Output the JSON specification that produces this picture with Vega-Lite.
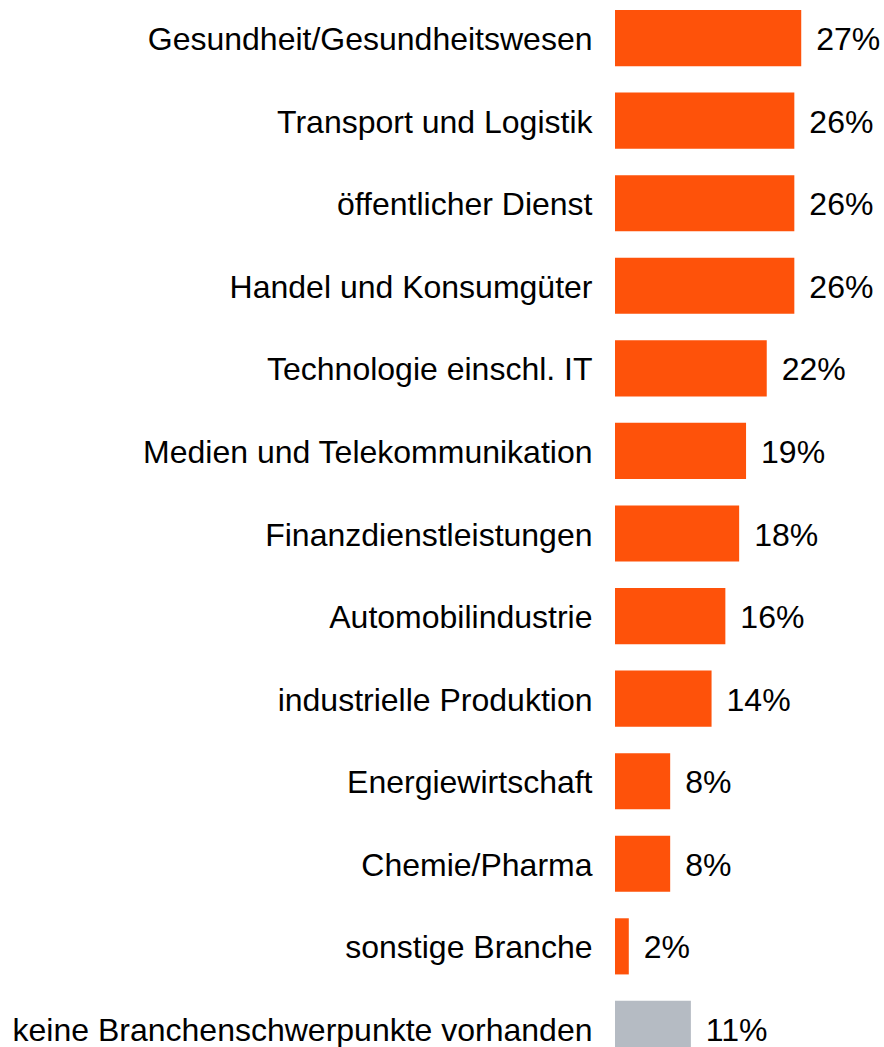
{
  "$schema": "https://vega.github.io/schema/vega-lite/v6.json",
  "autosize": "none",
  "width": 269,
  "height": 1047,
  "padding": {"top": 10, "left": 615, "right": 0, "bottom": 0},
  "background": "white",
  "config": {"view": {"stroke": null}, "font": "Liberation Sans"},
  "data": {"values": [
    {"cat": "Gesundheit/Gesundheitswesen", "value": 27, "label": "27%", "group": "a"},
    {"cat": "Transport und Logistik", "value": 26, "label": "26%", "group": "a"},
    {"cat": "öffentlicher Dienst", "value": 26, "label": "26%", "group": "a"},
    {"cat": "Handel und Konsumgüter", "value": 26, "label": "26%", "group": "a"},
    {"cat": "Technologie einschl. IT", "value": 22, "label": "22%", "group": "a"},
    {"cat": "Medien und Telekommunikation", "value": 19, "label": "19%", "group": "a"},
    {"cat": "Finanzdienstleistungen", "value": 18, "label": "18%", "group": "a"},
    {"cat": "Automobilindustrie", "value": 16, "label": "16%", "group": "a"},
    {"cat": "industrielle Produktion", "value": 14, "label": "14%", "group": "a"},
    {"cat": "Energiewirtschaft", "value": 8, "label": "8%", "group": "a"},
    {"cat": "Chemie/Pharma", "value": 8, "label": "8%", "group": "a"},
    {"cat": "sonstige Branche", "value": 2, "label": "2%", "group": "a"},
    {"cat": "keine Branchenschwerpunkte vorhanden", "value": 11, "label": "11%", "group": "b"}
  ]},
  "encoding": {
    "y": {
      "field": "cat", "type": "nominal", "sort": null,
      "scale": {"paddingInner": 0.32, "paddingOuter": 0},
      "axis": {"title": null, "domain": false, "ticks": false, "labelFontSize": 32, "labelColor": "#000000", "labelPadding": 23, "labelLimit": 800, "labelFont": "Liberation Sans", "labelOffset": 2}
    },
    "x": {
      "field": "value", "type": "quantitative",
      "scale": {"domain": [0, 39], "nice": false, "zero": true},
      "axis": null
    }
  },
  "layer": [
    {
      "mark": {"type": "bar"},
      "encoding": {
        "color": {
          "field": "group", "type": "nominal",
          "scale": {"domain": ["a", "b"], "range": ["#fe520a", "#b5bbc3"]},
          "legend": null
        }
      }
    },
    {
      "mark": {"type": "text", "align": "left", "baseline": "middle", "dx": 15, "dy": 2, "fontSize": 32, "color": "#000000", "font": "Liberation Sans"},
      "encoding": {"text": {"field": "label"}}
    }
  ]
}
